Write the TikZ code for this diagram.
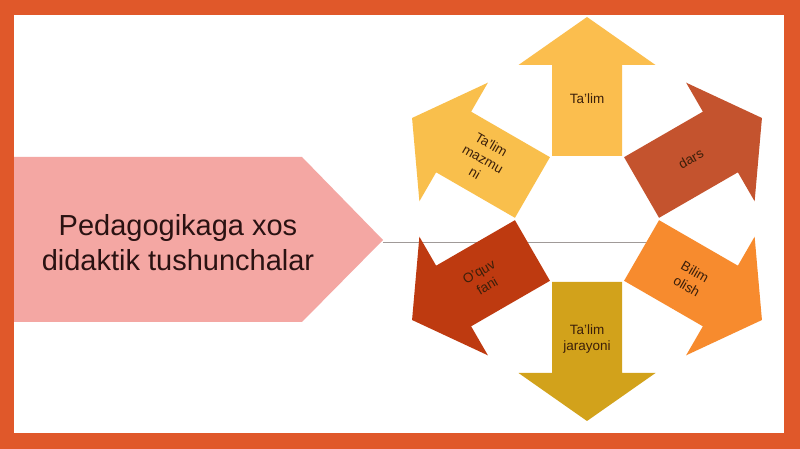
\documentclass[tikz,border=0pt]{standalone}
\usepackage{fontspec}
\setmainfont{Liberation Sans}
\definecolor{frameC}{HTML}{E0582A}
\definecolor{pentC}{HTML}{F4A7A3}
\definecolor{titleC}{HTML}{2A1212}
\definecolor{aTalim}{HTML}{FBBE4E}
\definecolor{aMazm}{HTML}{F9BF4C}
\definecolor{aDars}{HTML}{C4532E}
\definecolor{aBilim}{HTML}{F78B2E}
\definecolor{aJar}{HTML}{D2A21B}
\definecolor{aQuv}{HTML}{BE3A10}
\definecolor{arrTxt}{HTML}{3B1F0A}
\definecolor{lineC}{HTML}{A09A98}
\tikzset{
  arrlabel/.style={font=\fontsize{13.5}{16.5}\selectfont, text=arrTxt, align=center, inner sep=0pt},
  bigarrow/.pic={\fill[#1] (63,-35) -- (154,-35) -- (154,-68.5) -- (202,0) -- (154,68.5) -- (154,35) -- (63,35) -- cycle;}
}
\begin{document}
\begin{tikzpicture}[x=1pt,y=1pt]
\useasboundingbox (0,0) rectangle (800,449);
\fill[frameC] (0,0) rectangle (800,449);
\fill[white] (14,16) rectangle (784,434);
% pentagon
\fill[pentC] (14,127) -- (302,127) -- (383,209) -- (302,292) -- (14,292) -- cycle;
\node[font=\fontsize{29}{35}\selectfont, text=titleC, align=center, inner sep=0pt] (title) at (178,206) {Pedagogikaga xos\\didaktik tushunchalar};
\coordinate (ptip) at (383,207);
\coordinate (lend) at (650,207);
\draw[lineC, line width=0.8pt] (ptip) -- (lend);
\coordinate (C) at (587,230);
\foreach \i/\a/\col/\t/\txt in {1/90/aTalim/0/{Ta'lim}, 2/30/aDars/30/{dars}, 3/-30/aBilim/-30/{Bilim\\olish}, 4/-90/aJar/0/{Ta'lim\\jarayoni}, 5/-150/aQuv/30/{O'quv\\fani}, 6/150/aMazm/-30/{Ta'lim\\mazmu\\ni}}{
  \pic[shift={(C)}, rotate=\a] {bigarrow=\col};
  \node[arrlabel, rotate=\t] (lbl\i) at ([shift={(C)}]\a:120) {\txt};
}
\end{tikzpicture}
\end{document}
